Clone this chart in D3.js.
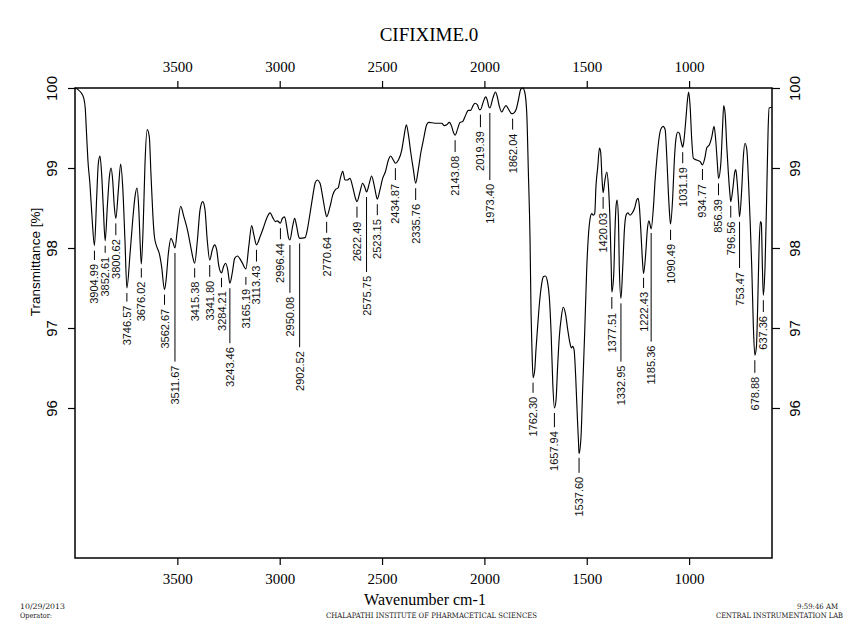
<!DOCTYPE html>
<html>
<head>
<meta charset="utf-8">
<script src="https://cdn.jsdelivr.net/npm/d3@7"></script>
<style>
  html, body { margin: 0; padding: 0; background: #fff; }
  svg { display: block; }
</style>
</head>
<body>
<svg id="chart" width="862" height="639"></svg>
<script>
// ---------------- DATA ----------------
const wavenumber = [
  4000,3985,3970,3958,3950,3944,3937,3927,3916,3905,3894,3886,3878,3870,3862,3852.6,3842,3832,3824,3816,
  3808,3800.6,3788,3777,3767,3756,3746.6,3731,3718,3707,3697,3689,3681,3676,3666,3658,3647,3637,3629,3620,
  3612,3601,3588,3577,3562.7,3555,3544,3531,3520,3511.7,3500,3484,3468,3451,3435,3425,3415.4,3402,3389,3376,
  3365,3354,3341.8,3329,3318,3308,3297,3284.2,3274,3264,3254,3243.5,3231,3220,3207,3186,3165.2,3151,3137,3126,
  3113.4,3096,3080,3064,3047,3034,3021,3012,2996.4,2987,2976,2966,2956,2950.1,2937,2927,2917,2907,2902.5,2876,
  2865,2852,2839,2826,2816,2803,2790,2777,2770.6,2754,2741,2728,2715,2702,2692,2681,2670,2657,2644,2632,
  2622.5,2608,2595,2583,2575.8,2562,2551,2539,2529,2523.2,2510,2497,2484,2469,2458,2445,2434.9,2420,2404,2393,
  2381,2372,2360,2347,2335.8,2323,2310,2298,2282,2272,2241,2208,2197,2184,2171,2160,2152,2143.1,2132,2119,
  2106,2095,2078,2067,2057,2046,2034,2025,2019.4,2005,1994,1985,1979,1973.4,1959,1946,1937,1927,1915,1904,
  1894,1881,1867,1862,1845,1834,1823,1813,1803,1793,1785,1777,1772,1768,1762.3,1754,1748,1741,1731,1722,
  1712,1702,1692,1683,1674,1666,1657.9,1650,1643,1634,1624,1615,1604,1593,1582,1575,1569,1562,1554,1546,
  1540,1537.6,1528,1520,1510,1500,1492,1484,1476,1468,1461,1455,1446,1438,1432,1425,1420,1411,1402,1394,
  1386,1380,1377.5,1368,1362,1357,1352,1345,1341,1333,1324,1316,1308,1300,1288,1277,1266,1256,1249,1243,
  1236,1228,1222.4,1212,1204,1196,1189,1185.4,1174,1166,1158,1148,1139,1127,1117,1109,1101,1093,1090.5,1080,
  1072,1064,1055,1047,1039,1031.2,1025,1016,1008,1002,995,987,979,963,946,934.8,922,914,901,889,
  878,870,862,856.4,845,837,831,824,816,808,800,796.6,785,777,772,766,759,753.5,743,735,
  727,718,710,702,694,686,678.9,671,665,658,652,647,642,637.4,629,621,614,609,595
];
const transmittance = [
  100.0,99.98,99.94,99.88,99.75,99.45,99.10,98.80,98.35,98.03,98.64,99.06,99.15,98.93,98.52,98.09,98.52,98.89,99.00,98.85,
  98.52,98.37,98.73,99.05,98.77,98.10,97.50,97.93,98.35,98.64,98.75,98.52,98.02,97.80,98.35,99.06,99.48,99.39,98.93,98.43,
  98.14,98.02,97.93,97.77,97.48,97.60,97.93,98.12,98.06,98.00,98.23,98.52,98.39,98.23,98.02,97.89,97.81,98.10,98.48,98.58,
  98.48,98.10,97.85,97.98,98.04,97.98,97.77,97.69,97.77,97.81,97.73,97.56,97.70,97.87,97.90,97.83,97.74,98.02,98.28,98.16,
  98.04,98.14,98.25,98.37,98.44,98.38,98.33,98.34,98.31,98.37,98.39,98.27,98.12,98.10,98.27,98.37,98.27,98.14,98.12,98.13,
  98.23,98.43,98.64,98.82,98.85,98.81,98.64,98.45,98.39,98.52,98.66,98.73,98.75,98.89,98.96,98.85,98.85,98.87,98.77,98.64,
  98.58,98.70,98.81,98.75,98.70,98.81,98.90,98.79,98.66,98.61,98.73,98.87,98.95,99.10,99.15,99.10,99.06,99.10,99.22,99.39,
  99.54,99.43,99.20,98.98,98.81,98.98,99.20,99.35,99.54,99.57,99.56,99.56,99.53,99.54,99.57,99.52,99.45,99.41,99.48,99.57,
  99.58,99.64,99.72,99.72,99.77,99.81,99.79,99.73,99.73,99.83,99.89,99.84,99.77,99.75,99.87,99.95,99.89,99.77,99.70,99.75,
  99.78,99.73,99.68,99.68,99.73,99.85,99.98,100.0,99.95,99.68,98.93,98.10,97.18,96.77,96.38,96.48,96.73,96.98,97.31,97.52,
  97.64,97.65,97.58,97.39,96.93,96.31,96.00,96.10,96.48,96.89,97.14,97.26,97.18,96.98,96.81,96.75,96.77,96.73,96.39,95.89,
  95.56,95.43,95.64,96.23,96.95,97.75,98.15,98.36,98.43,98.41,98.43,98.77,99.02,99.25,99.20,98.85,98.69,98.85,98.95,98.77,
  98.31,97.72,97.45,97.68,98.23,98.52,98.60,98.35,97.77,97.37,97.77,98.23,98.41,98.44,98.41,98.44,98.50,98.60,98.62,98.52,
  98.23,97.85,97.68,97.93,98.23,98.34,98.27,98.24,98.52,98.85,99.10,99.35,99.48,99.52,99.48,99.14,98.68,98.35,98.30,98.64,
  99.10,99.37,99.45,99.43,99.33,99.26,99.35,99.60,99.85,99.95,99.77,99.35,99.12,99.10,99.08,99.04,99.14,99.25,99.29,99.39,
  99.52,99.35,99.06,98.87,99.06,99.48,99.78,99.68,99.27,98.93,98.66,98.58,98.77,98.95,98.98,98.85,98.60,98.39,98.73,99.14,
  99.31,99.23,98.85,98.35,97.77,97.02,96.66,96.77,97.27,98.02,98.33,98.31,97.77,97.41,97.77,98.64,99.48,99.75,99.76
];

// labelled peaks: wavenumber, transmittance at the band, transmittance where the leader ends
const peakWn = [3904.99,3852.61,3800.62,3746.57,3676.02,3562.67,3511.67,3415.38,3341.80,3284.21,3243.46,3165.19,3113.43,
  2996.44,2950.08,2902.52,2770.64,2622.49,2575.75,2523.15,2434.87,2335.76,2143.08,2019.39,1973.40,1862.04,
  1762.30,1657.94,1537.60,1420.03,1377.51,1332.95,1222.43,1185.36,1090.49,1031.19,934.77,856.39,796.56,753.47,678.88,637.36];
const peakT = [98.03,98.09,98.37,97.50,97.81,97.48,98.00,97.81,97.85,97.69,97.56,97.70,98.04,
  98.31,98.10,98.12,98.39,98.58,98.70,98.61,99.06,98.81,99.41,99.73,99.75,99.68,
  96.38,96.00,95.44,98.70,97.45,97.37,97.69,98.25,98.29,99.26,99.05,98.87,98.59,98.39,96.66,97.41];
const leaderEndT = [97.85,97.94,98.16,97.33,97.63,97.29,96.58,97.63,97.64,97.51,96.81,97.54,97.83,
  98.11,97.44,96.76,98.19,98.38,97.70,98.41,98.85,98.60,99.20,99.51,98.85,99.48,
  96.19,95.76,95.19,98.49,97.24,96.58,97.50,96.83,98.10,99.06,98.85,98.66,98.38,97.75,96.44,97.20];

const xTicks = [3500,3000,2500,2000,1500,1000];
const yTicks = [100,99,98,97,96];

const titleText = "CIFIXIME.0";
const xLabel = "Wavenumber cm-1";
const yLabel = "Transmittance [%]";
const footer = {
  date: "10/29/2013", operator: "Operator:",
  center: "CHALAPATHI INSTITUTE OF PHARMACETICAL SCIENCES",
  time: "9:59:46 AM", lab: "CENTRAL INSTRUMENTATION LAB"
};

// ---------------- CHART ----------------
const svg = d3.select("#chart");
const L = 75, R = 772, T = 88, B = 558;
const x = d3.scaleLinear().domain([4000, 595]).range([L, R]);
const y = d3.scaleLinear().domain([94.125, 100]).range([B, T]);

const serif = "'Liberation Serif', 'Times New Roman', serif";
const sans = "'Liberation Sans', Arial, sans-serif";

// title
svg.append("text").attr("x", 429).attr("y", 41).attr("text-anchor", "middle")
  .style("font-family", serif).style("font-size", "19px").text(titleText);

// axes
function styleAxis(g) {
  g.select(".domain").remove();
  g.selectAll("line").attr("stroke", "#000").attr("stroke-width", 1.2);
}
const axTop = svg.append("g").attr("transform", `translate(0,${T})`)
  .call(d3.axisTop(x).tickValues(xTicks).tickSize(7).tickPadding(9).tickFormat(d3.format("d")));
const axBot = svg.append("g").attr("transform", `translate(0,${B})`)
  .call(d3.axisBottom(x).tickValues(xTicks).tickSize(7).tickPadding(8).tickFormat(d3.format("d")));
[axTop, axBot].forEach(g => {
  styleAxis(g);
  g.selectAll("text").style("font-family", serif).style("font-size", "15px").attr("fill", "#000");
});

const axLeft = svg.append("g").attr("transform", `translate(${L},0)`)
  .call(d3.axisLeft(y).tickValues(yTicks).tickSize(7).tickFormat(d3.format("d")));
const axRight = svg.append("g").attr("transform", `translate(${R},0)`)
  .call(d3.axisRight(y).tickValues(yTicks).tickSize(8).tickFormat(d3.format("d")));
styleAxis(axLeft); styleAxis(axRight);
axLeft.selectAll("text").attr("x", null).attr("dy", null).attr("text-anchor", "middle")
  .attr("transform", "translate(-18,0) rotate(-90)")
  .style("font-family", sans).style("font-size", "15px").attr("fill", "#000");
axRight.selectAll("text").attr("x", null).attr("dy", null).attr("text-anchor", "middle")
  .attr("transform", "translate(28,0) rotate(-90)")
  .style("font-family", sans).style("font-size", "15px").attr("fill", "#000");

// axis titles
svg.append("text").attr("transform", "translate(40,262) rotate(-90)").attr("text-anchor", "middle")
  .style("font-family", sans).style("font-size", "13.5px").text(yLabel);
svg.append("text").attr("x", 425).attr("y", 605).attr("text-anchor", "middle")
  .style("font-family", serif).style("font-size", "16px").text(xLabel);

// spectrum
const pts = wavenumber.map((w, i) => [w, transmittance[i]]);
svg.append("clipPath").attr("id", "clip").append("rect")
  .attr("x", L).attr("y", T - 1).attr("width", R - L).attr("height", B - T + 1);
svg.append("path").datum(pts)
  .attr("clip-path", "url(#clip)")
  .attr("fill", "none").attr("stroke", "#000").attr("stroke-width", 1.15)
  .attr("stroke-linejoin", "round")
  .attr("d", d3.line().x(d => x(d[0])).y(d => y(d[1])).curve(d3.curveMonotoneX));

// frame
svg.append("rect").attr("x", L).attr("y", T).attr("width", R - L).attr("height", B - T)
  .attr("fill", "none").attr("stroke", "#000").attr("stroke-width", 1.5);

// peak annotations
const ann = svg.append("g");
peakWn.forEach((w, i) => {
  const px = x(w);
  const y1 = y(peakT[i]) + 5;
  const y2 = y(leaderEndT[i]);
  ann.append("line").attr("x1", px).attr("x2", px).attr("y1", y1).attr("y2", y2)
    .attr("stroke", "#000").attr("stroke-width", 1);
  ann.append("text")
    .attr("transform", `translate(${px + 4},${y2 + 4}) rotate(-90)`)
    .attr("text-anchor", "end")
    .style("font-family", sans).style("font-size", "11px").attr("fill", "#111")
    .text(w.toFixed(2));
});

// footer
const ff = "'DejaVu Serif', serif";
function foot(txt, xx, yy, anchor, len) {
  const t = svg.append("text").attr("x", xx).attr("y", yy).attr("text-anchor", anchor)
    .style("font-family", ff).style("font-size", "7.5px").attr("fill", "#222").text(txt);
  if (len) t.attr("textLength", len).attr("lengthAdjust", "spacingAndGlyphs");
}
foot(footer.date, 20, 609, "start", 45);
foot(footer.operator, 20, 618, "start", 32);
foot(footer.center, 326, 618, "start", 211);
foot(footer.time, 838, 609, "end", 41);
foot(footer.lab, 843, 618, "end", 127);
</script>
</body>
</html>
